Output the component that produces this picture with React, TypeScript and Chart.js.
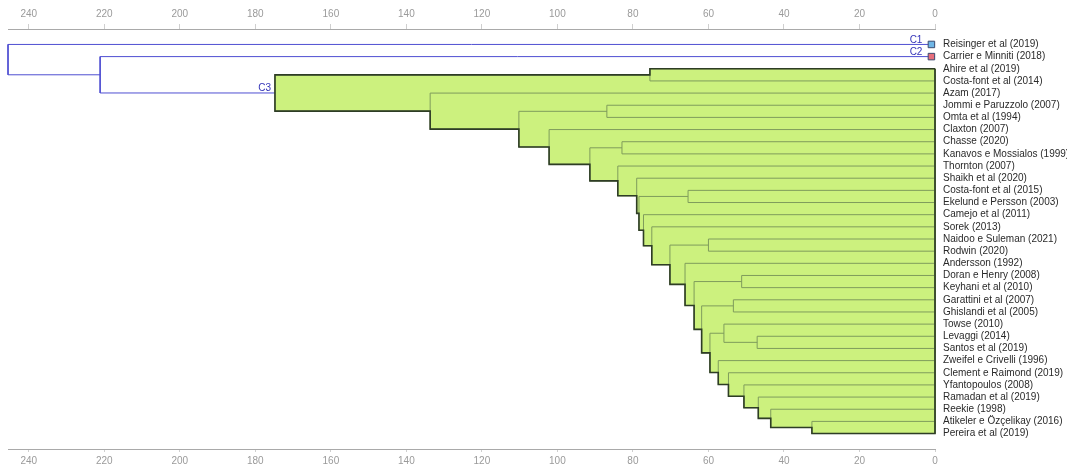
import React, { useEffect, useRef } from 'react';
import { Chart, registerables } from 'chart.js';

Chart.register(...registerables);

// ---------- data ----------
const leafLabels = [
  'Reisinger et al (2019)',
  'Carrier e Minniti (2018)',
  'Ahire et al (2019)',
  'Costa-font et al (2014)',
  'Azam (2017)',
  'Jommi e Paruzzolo (2007)',
  'Omta et al (1994)',
  'Claxton (2007)',
  'Chasse (2020)',
  'Kanavos e Mossialos (1999)',
  'Thornton (2007)',
  'Shaikh et al (2020)',
  'Costa-font et al (2015)',
  'Ekelund e Persson (2003)',
  'Camejo et al (2011)',
  'Sorek (2013)',
  'Naidoo e Suleman (2021)',
  'Rodwin (2020)',
  'Andersson (1992)',
  'Doran e Henry (2008)',
  'Keyhani et al (2010)',
  'Garattini et al (2007)',
  'Ghislandi et al (2005)',
  'Towse (2010)',
  'Levaggi (2014)',
  'Santos et al (2019)',
  'Zweifel e Crivelli (1996)',
  'Clement e Raimond (2019)',
  'Yfantopoulos (2008)',
  'Ramadan et al (2019)',
  'Reekie (1998)',
  'Atikeler e Özçelikay (2016)',
  'Pereira et al (2019)',
];

// linkage: merge k creates node id (leafCount + k) from left/right children
const mergeLeft = [31, 24, 30, 29, 28, 19, 21, 27, 23, 26, 41, 16, 39, 38, 12, 18, 44, 15, 2, 14, 47, 11, 8, 10, 5, 55, 7, 57, 4, 51, 1, 0];
const mergeRight = [32, 25, 33, 35, 36, 20, 22, 37, 34, 40, 42, 17, 43, 45, 13, 46, 48, 49, 3, 50, 52, 53, 9, 54, 6, 56, 58, 59, 60, 61, 62, 63];
const mergeHeight = [32.6, 47.1, 43.5, 46.8, 50.6, 51.2, 53.4, 54.7, 55.9, 57.4, 59.6, 60.0, 61.8, 63.8, 65.4, 66.2, 70.2, 75.0, 75.5, 77.2, 78.4, 79.0, 82.9, 84.0, 86.9, 91.4, 102.2, 110.2, 133.7, 174.8, 221.1, 245.5];

const clusterNames = ['C1', 'C2', 'C3'];
const clusterNodes = [0, 1, 62];

const xTicks = [0, 20, 40, 60, 80, 100, 120, 140, 160, 180, 200, 220, 240];

// ---------- styles ----------
const BLUE = '#4f4fd2';
const LABEL_BLUE = '#3434b8';
const GREEN_FILL = '#ccf17e';
const GREEN_LINE = '#7f9c5c';
const GREEN_DARK = '#2e3d25';
const MARKER_COLORS = ['#6fb6e6', '#e66e7c'];
const MARKER_INSET = 0.95;
const FONT = '"Liberation Sans", Arial, sans-serif';

export default function App() {
  const ref = useRef<HTMLCanvasElement>(null);

  useEffect(() => {
    const N = leafLabels.length;
    const nodeH: number[] = [];
    const nodeY: number[] = [];
    for (let i = 0; i < N; i++) {
      nodeH[i] = 0;
      nodeY[i] = i;
    }
    mergeLeft.forEach((l, k) => {
      const r = mergeRight[k];
      nodeH[N + k] = mergeHeight[k];
      nodeY[N + k] = (nodeY[l] + nodeY[r]) / 2;
    });

    const green = new Set<number>();
    const mark = (n: number) => {
      if (n >= N) {
        green.add(n);
        mark(mergeLeft[n - N]);
        mark(mergeRight[n - N]);
      }
    };
    mark(clusterNodes[2]);

    const datasets: any[] = [];
    const base = { showLine: true, pointRadius: 0, pointHoverRadius: 0, clip: false, tension: 0 };

    // leaf markers for single-leaf clusters
    [0, 1].forEach((ci) => {
      datasets.push({
        ...base,
        showLine: false,
        data: [{ x: MARKER_INSET, y: nodeY[clusterNodes[ci]] }],
        pointStyle: 'rect',
        pointRadius: 4.6,
        pointBackgroundColor: MARKER_COLORS[ci],
        pointBorderColor: '#3c4a70',
        pointBorderWidth: 1,
      });
    });

    // dark outline of the green cluster
    const rects = Array.from(green).map((n) => {
      const l = mergeLeft[n - N];
      const r = mergeRight[n - N];
      return { h: nodeH[n], y1: Math.min(nodeY[l], nodeY[r]), y2: Math.max(nodeY[l], nodeY[r]) };
    });
    const ys = Array.from(new Set(rects.flatMap((r) => [r.y1, r.y2]))).sort((a, b) => a - b);
    const outline: { x: number; y: number }[] = [{ x: 0, y: ys[0] }];
    for (let k = 0; k < ys.length - 1; k++) {
      const ym = (ys[k] + ys[k + 1]) / 2;
      let h = 0;
      rects.forEach((r) => {
        if (r.y1 <= ym && r.y2 >= ym && r.h > h) h = r.h;
      });
      outline.push({ x: h, y: ys[k] }, { x: h, y: ys[k + 1] });
    }
    outline.push({ x: 0, y: ys[ys.length - 1] }, { x: 0, y: ys[0] });
    datasets.push({ ...base, data: outline, borderColor: GREEN_DARK, borderWidth: 1.6, fill: false });

    // merges
    mergeLeft.forEach((l, k) => {
      const n = N + k;
      const r = mergeRight[k];
      const h = nodeH[n];
      if (green.has(n)) {
        const y1 = Math.min(nodeY[l], nodeY[r]);
        const y2 = Math.max(nodeY[l], nodeY[r]);
        datasets.push({
          ...base,
          data: [
            { x: h, y: y1 },
            { x: 0, y: y1 },
            { x: 0, y: y2 },
            { x: h, y: y2 },
            { x: h, y: y1 },
          ],
          borderColor: GREEN_LINE,
          borderWidth: 1,
          fill: false,
        });
        datasets.push({
          ...base,
          data: [
            { x: h, y: y1 },
            { x: 0, y: y1 },
          ],
          borderColor: 'rgba(0,0,0,0)',
          borderWidth: 0,
          backgroundColor: GREEN_FILL,
          fill: { value: y2 },
        });
      } else {
        datasets.push({
          ...base,
          data: [
            { x: nodeH[l], y: nodeY[l] },
            { x: h, y: nodeY[l] },
            { x: h, y: nodeY[r] },
            { x: nodeH[r], y: nodeY[r] },
          ],
          borderColor: BLUE,
          borderWidth: 1,
          fill: false,
        });
      }
    });

    const labelPlugin = {
      id: 'clusterLabels',
      afterDatasetsDraw(chart: any) {
        const { ctx, scales } = chart;
        const xs = scales.x;
        const yS = scales.y;
        ctx.save();
        ctx.font = `10px ${FONT}`;
        ctx.fillStyle = LABEL_BLUE;
        ctx.textAlign = 'right';
        ctx.textBaseline = 'alphabetic';
        clusterNodes.forEach((n, i) => {
          const isLeaf = n < N;
          const px = isLeaf ? xs.getPixelForValue(MARKER_INSET) - 9 : xs.getPixelForValue(nodeH[n]) - 4;
          const py = yS.getPixelForValue(nodeY[n]) - 1.5;
          ctx.fillText(clusterNames[i], px, py);
        });
        ctx.restore();
      },
    };

    const xAxisCommon = (position: string, height: number, tickLength: number, padding: number) => ({
      type: 'linear',
      position,
      min: 0,
      max: 245.5,
      reverse: true,
      afterBuildTicks: (s: any) => {
        s.ticks = xTicks.map((v) => ({ value: v }));
      },
      afterFit: (s: any) => {
        s.height = height;
      },
      grid: { display: true, drawOnChartArea: false, drawTicks: true, tickLength, color: '#cfcfcf' },
      border: { display: true, color: '#a9a9a9', width: 1 },
      ticks: { color: '#9a9a9a', font: { size: 10, family: FONT }, padding, maxRotation: 0, autoSkip: false },
    });

    const chart = new Chart(ref.current as HTMLCanvasElement, {
      type: 'scatter',
      data: { datasets },
      options: {
        animation: false,
        responsive: false,
        events: [],
        layout: { padding: { left: 8, right: 0, top: 0, bottom: 0 } },
        plugins: { legend: { display: false }, tooltip: { enabled: false } },
        scales: {
          x: xAxisCommon('top', 29, 5, 4) as any,
          x2: xAxisCommon('bottom', 17, 3, 3) as any,
          y: {
            type: 'linear',
            position: 'right',
            min: -1.27,
            max: 33.27,
            reverse: true,
            afterBuildTicks: (s: any) => {
              s.ticks = leafLabels.map((_, i) => ({ value: i }));
            },
            afterFit: (s: any) => {
              s.width = 132;
            },
            grid: { display: false, drawTicks: false },
            border: { display: false },
            ticks: {
              color: '#2a2a2a',
              font: { size: 10, family: FONT },
              padding: 8,
              autoSkip: false,
              callback: (v: any) => leafLabels[v as number] ?? '',
            },
          },
        },
      },
      plugins: [labelPlugin],
    } as any);

    return () => chart.destroy();
  }, []);

  return (
    <div style={{ position: 'fixed', left: 0, top: 0, width: 1067, height: 466, background: '#fff' }}>
      <canvas ref={ref} width={1067} height={466} style={{ width: 1067, height: 466, display: 'block' }} />
    </div>
  );
}
